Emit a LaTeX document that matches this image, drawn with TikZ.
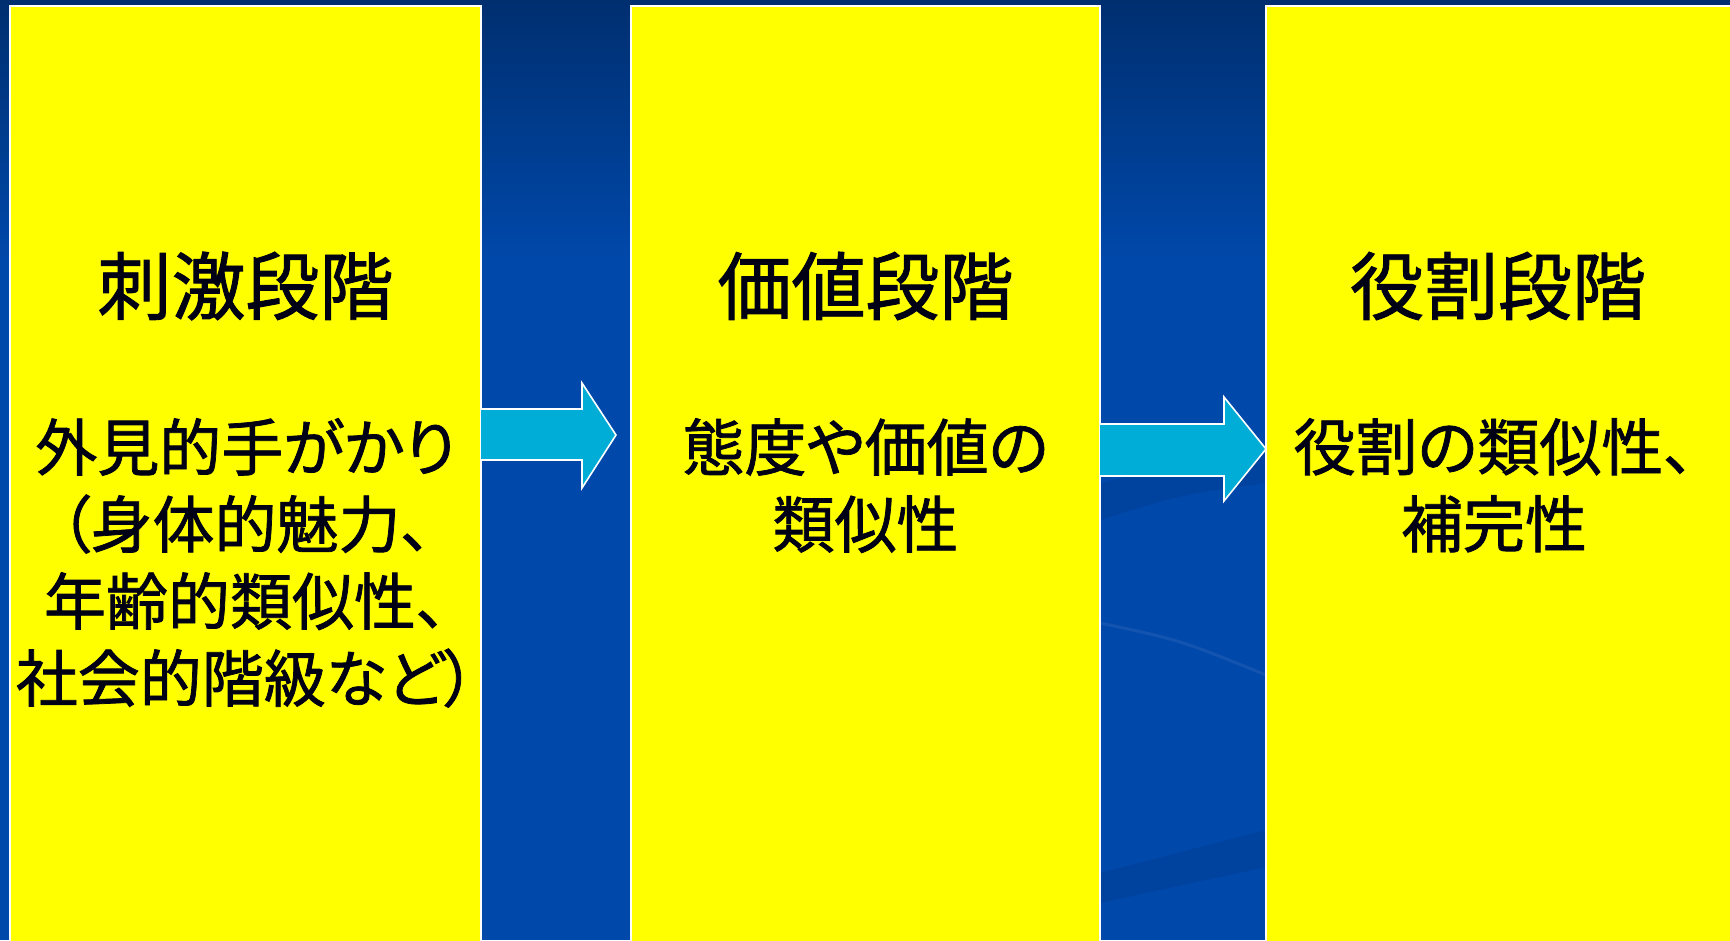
\documentclass[tikz,border=0pt]{standalone}
\usepackage{fontspec}
\newfontfamily\jp[RawFeature=+palt,FakeBold=1.2]{Noto Sans CJK JP}
\usetikzlibrary{calc}
\definecolor{navytop}{RGB}{0,47,112}
\definecolor{bgblue}{RGB}{0,72,170}
\definecolor{arrowcyan}{RGB}{0,173,214}
\definecolor{inkblack}{RGB}{0,0,20}
\definecolor{boxyellow}{RGB}{255,255,0}
\begin{document}
\begin{tikzpicture}[x=1pt,y=-1pt,
  stagebox/.style={draw=white,line width=2pt,fill=boxyellow,minimum height=960pt,anchor=north west,inner sep=0pt,outer sep=0pt},
  titletext/.style={font=\jp\fontsize{74}{80}\selectfont,text=inkblack,inner sep=0pt},
  bodytext/.style={font=\jp\fontsize{62}{77}\selectfont,text=inkblack,align=center,inner sep=0pt,anchor=north},
  flowfill/.style={fill=arrowcyan},
  flowedge/.style={draw=white,line width=1.6pt,line join=miter}]
\useasboundingbox (0,0) rectangle (1730,940);
% background
\shade[top color=navytop,bottom color=bgblue] (0,0) rectangle (1730,260);
\fill[bgblue] (0,259) rectangle (1730,940);
% faint template streaks
\fill[navytop,opacity=0.18] (1100,483) .. controls (1180,465) .. (1266,450) -- (1266,483) .. controls (1180,495) .. (1100,520) -- cycle;
\draw[white,opacity=0.07,line width=3pt] (1100,623) .. controls (1180,640) .. (1266,675);
\fill[navytop,opacity=0.18] (1100,873) -- (1266,830) -- (1266,867) -- (1100,903) -- cycle;
% stage boxes
\node[stagebox,minimum width=471pt] (b1) at (10,6) {};
\node[stagebox,minimum width=469pt] (b2) at (631,6) {};
\node[stagebox,minimum width=476pt] (b3) at (1266,6) {};
% titles
\node[titletext] (t1) at (b1.north |- 0,286) {刺激段階};
\node[titletext] (t2) at (b2.north |- 0,286) {価値段階};
\node[titletext] (t3) at (1498,286) {役割段階};
% body texts
\node[bodytext] (d1) at (b1.north |- 0,418) {外見的手がかり\\（身体的魅力、\\年齢的類似性、\\社会的階級など）};
\node[bodytext] (d2) at (b2.north |- 0,418) {態度や価値の\\類似性};
\node[bodytext] (d3) at (1494,418) {役割の類似性、\\補完性};
% arrows between stages
\coordinate (a1t) at (b1.east |- 0,409);
\coordinate (a1b) at (b1.east |- 0,460);
\coordinate (a2t) at (b2.east |- 0,424);
\coordinate (a2b) at (b2.east |- 0,476);
\fill[flowfill] (a1t) -- (582,409) -- (582,383) -- (616,435) -- (582,488) -- (582,460) -- (a1b) -- cycle;
\draw[flowedge] (a1t) -- (582,409) -- (582,383) -- (616,435) -- (582,488) -- (582,460) -- (a1b);
\fill[flowfill] (a2t) -- (1224,424) -- (1224,397) -- (b3.west |- 0,449) -- (1224,501) -- (1224,476) -- (a2b) -- cycle;
\draw[flowedge] (a2t) -- (1224,424) -- (1224,397) -- (b3.west |- 0,449) -- (1224,501) -- (1224,476) -- (a2b);
\end{tikzpicture}
\end{document}
